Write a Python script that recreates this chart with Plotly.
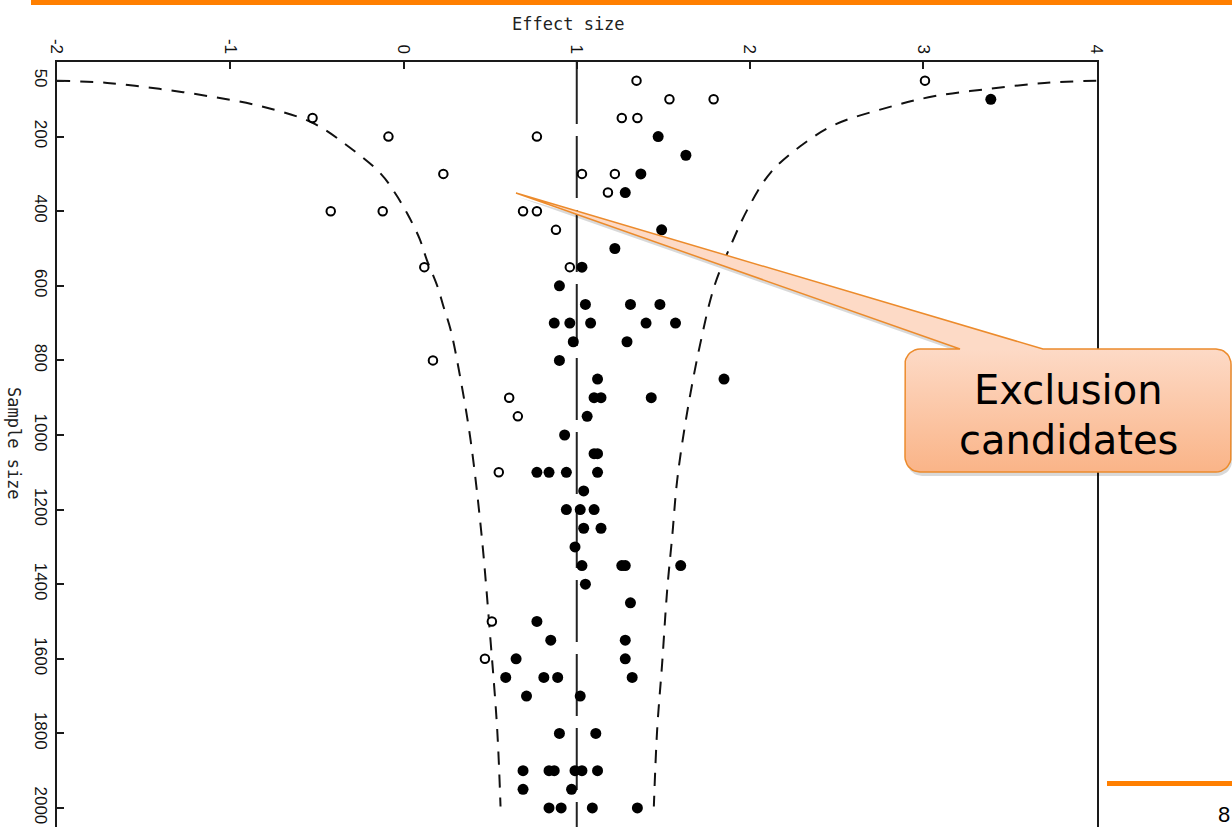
import numpy as np
import plotly.graph_objects as go

# ---------------- data ----------------
# open circles: sample size, effect size
open_n = [50, 50, 100, 100, 150, 150, 150, 200, 200, 300, 300, 300, 350,
          400, 400, 400, 400, 450, 550, 550, 800, 900, 950, 1100, 1500, 1600]
open_es = [1.345, 3.01, 1.535, 1.79, -0.525, 1.26, 1.35, -0.087, 0.77, 0.23, 1.03, 1.22, 1.18,
           -0.42, -0.12, 0.69, 0.77, 0.88, 0.12, 0.96, 0.17, 0.61, 0.66, 0.55, 0.51, 0.47]

# filled circles: sample size, effect size
filled_n = [100, 200, 250, 300, 350, 450, 500, 550, 600,
            650, 650, 650,
            700, 700, 700, 700, 700,
            750, 750,
            800,
            850, 850,
            900, 900, 900,
            950,
            1000,
            1050, 1050,
            1100, 1100, 1100, 1100,
            1150,
            1200, 1200, 1200,
            1250, 1250,
            1300,
            1350, 1350, 1350, 1350,
            1400,
            1450,
            1500,
            1550, 1550,
            1600, 1600,
            1650, 1650, 1650, 1650,
            1700, 1700,
            1800, 1800,
            1900, 1900, 1900, 1900, 1900, 1900,
            1950, 1950,
            2000, 2000, 2000, 2000]
filled_es = [3.39, 1.47, 1.63, 1.37, 1.28, 1.49, 1.22, 1.03, 0.90,
             1.05, 1.31, 1.48,
             0.87, 0.96, 1.08, 1.40, 1.57,
             0.98, 1.29,
             0.90,
             1.12, 1.85,
             1.10, 1.14, 1.43,
             1.06,
             0.93,
             1.10, 1.12,
             0.77, 0.84, 0.94, 1.12,
             1.04,
             0.94, 1.02, 1.10,
             1.04, 1.14,
             0.99,
             1.03, 1.26, 1.28, 1.60,
             1.05,
             1.31,
             0.77,
             0.85, 1.28,
             0.65, 1.28,
             0.59, 0.81, 0.89, 1.32,
             0.71, 1.02,
             0.90, 1.11,
             0.69, 0.84, 0.87, 0.99, 1.03, 1.12,
             0.69, 0.97,
             0.84, 0.91, 1.09, 1.35]

# funnel limits (dashed curves)
lower_n = [50, 56, 72, 92, 119, 163, 226, 298, 352, 405, 473, 531, 602, 656, 718, 852, 1013,
           1265, 1549, 1791, 1996]
lower_es = [-2.0, -1.71, -1.41, -1.12, -0.82, -0.525, -0.32, -0.134, -0.048, 0.02, 0.092, 0.135,
            0.196, 0.231, 0.272, 0.33, 0.387, 0.45, 0.502, 0.541, 0.56]
upper_n = [50, 56, 72, 92, 123, 168, 226, 297, 387, 485, 600, 753, 940, 1120, 1272, 1415, 1612, 1791, 1996]
upper_es = [4.0, 3.70, 3.38, 3.06, 2.787, 2.49, 2.29, 2.118, 1.995, 1.895, 1.795, 1.714, 1.637,
            1.58, 1.551, 1.522, 1.493, 1.464, 1.445]

null_effect = 1.0
n_range = [0, 2051]

x_ticks = [-2, -1, 0, 1, 2, 3, 4]
x_ticktext = ["-2", "-1", "0", "1", "2", "3", "4"]
y_ticks = [50, 200, 400, 600, 800, 1000, 1200, 1400, 1600, 1800, 2000]

# ---------------- figure ----------------
W, H = 1232, 827
AX = "#1a1a1a"
fig = go.Figure()

# dashed funnel limits
curve_line = dict(color="#111", width=2, dash="13px,10px", shape="spline", smoothing=1.0)
fig.add_trace(go.Scatter(x=lower_es, y=lower_n, mode="lines", line=curve_line, hoverinfo="skip"))
fig.add_trace(go.Scatter(x=upper_es, y=upper_n, mode="lines", line=curve_line, hoverinfo="skip"))
# null effect line
fig.add_trace(go.Scatter(x=[null_effect, null_effect], y=n_range, mode="lines",
                         line=dict(color="#222", width=2, dash="62px,12px"), hoverinfo="skip"))
# points
fig.add_trace(go.Scatter(x=filled_es, y=filled_n, mode="markers",
                         marker=dict(symbol="circle", size=11, color="black", line=dict(width=0))))
fig.add_trace(go.Scatter(x=open_es, y=open_n, mode="markers",
                         marker=dict(symbol="circle", size=8.5, color="white", line=dict(width=2, color="black"))))

# ---------------- callout (pixel overlay axes) ----------------
def callout_path(x0, y0, x1, y1, r, xa, xb, tip):
    px, py = [], []
    px += [x0 + r, xa, tip[0], xb, x1 - r]
    py += [y0, y0, tip[1], y0, y0]
    for (cx, cy, a0, a1) in [(x1 - r, y0 + r, -90, 0), (x1 - r, y1 - r, 0, 90),
                             (x0 + r, y1 - r, 90, 180), (x0 + r, y0 + r, 180, 270)]:
        t = np.radians(np.linspace(a0, a1, 10))
        px += list(cx + r * np.cos(t))
        py += list(cy + r * np.sin(t))
    px.append(px[0]); py.append(py[0])
    return px, py

bx0, by0, bx1, by1 = 905, 349, 1231, 472
sx, sy = callout_path(bx0 + 2, by0 + 4, bx1 + 1, by1 + 4, 15, 962, 1045, (518, 197))
fig.add_trace(go.Scatter(x=sx, y=sy, xaxis="x2", yaxis="y2", mode="lines", fill="toself",
                         fillcolor="rgba(0,0,0,0.15)", line=dict(width=0), hoverinfo="skip"))
cx_, cy_ = callout_path(bx0, by0, bx1, by1, 15, 960, 1043, (516, 193))
fig.add_trace(go.Scatter(x=cx_, y=cy_, xaxis="x2", yaxis="y2", mode="lines", fill="toself",
                         fillgradient=dict(type="vertical", colorscale=[[0, "#FDDAC6"], [1, "#FAB488"]],
                                           start=by0, stop=by1),
                         line=dict(color="#EC8B2C", width=1.5), hoverinfo="skip"))

# orange decorations
fig.add_shape(type="rect", xref="x2", yref="y2", x0=31, x1=W, y0=0, y1=5, fillcolor="#FF7F00", line=dict(width=0))
fig.add_shape(type="rect", xref="x2", yref="y2", x0=1107, x1=W, y0=781, y1=786, fillcolor="#FF7F00", line=dict(width=0))

annos = [
    dict(x=568, y=24, text="Effect size", font=dict(family="DejaVu Sans Mono", size=17, color="#222")),
    dict(x=14, y=443, text="Sample size", textangle=90, font=dict(family="DejaVu Sans Mono", size=17, color="#222")),
    dict(x=1068, y=390, text="Exclusion", font=dict(family="DejaVu Sans", size=40, color="black")),
    dict(x=1068, y=440, text="candidates", font=dict(family="DejaVu Sans", size=40, color="black")),
    dict(x=1224, y=814, text="8", font=dict(family="Liberation Sans", size=22, color="black")),
]
for a in annos:
    fig.add_annotation(xref="x2", yref="y2", showarrow=False, xanchor="center", yanchor="middle", **a)

tickfont = dict(family="Liberation Sans", size=17, color="#111")
fig.update_layout(
    template="none",
    width=W, height=H, margin=dict(l=0, r=0, t=0, b=0, pad=0),
    paper_bgcolor="white", plot_bgcolor="rgba(0,0,0,0)", showlegend=False,
    xaxis=dict(domain=[57 / W, 1096.5 / W], range=[-2, 4], side="top", anchor="y",
               showline=True, linecolor=AX, linewidth=2, ticks="inside", ticklen=7, tickwidth=2,
               tickcolor=AX, tickvals=x_ticks, ticktext=x_ticktext, tickangle=90, tickfont=tickfont,
               showgrid=False, zeroline=False, automargin=False),
    yaxis=dict(domain=[0, (H - 62) / H], range=[n_range[1], n_range[0]], anchor="x",
               showline=True, mirror=True, linecolor=AX, linewidth=2, ticks="inside", ticklen=7,
               tickwidth=2, tickcolor=AX, tickvals=y_ticks, tickangle=90, tickfont=tickfont,
               showgrid=False, zeroline=False, automargin=False),
    xaxis2=dict(domain=[0, 1], range=[0, W], anchor="y2", visible=False),
    yaxis2=dict(domain=[0, 1], range=[H, 0], anchor="x2", visible=False),
)

fig.write_html("out.html", config={"displayModeBar": False},
               post_script="document.body.style.margin='0';document.body.style.overflow='hidden';")
